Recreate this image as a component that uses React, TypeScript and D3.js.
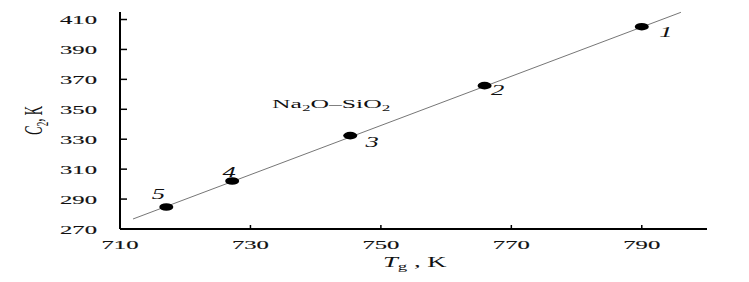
import React from 'react';
import * as d3 from 'd3';

// Tg (K) vs C2 (K) for Na2O-SiO2 glasses
const tg = [790, 765.9, 745.3, 727.2, 717.1];
const c2 = [405.2, 365.8, 332.4, 302.1, 284.7];
const pointLabels = ['1', '2', '3', '4', '5'];

// fitted line end points
const fitTg = [712, 796];
const fitC2 = [276.7, 414.8];

const xTicks = [710, 730, 750, 770, 790];
const yTicks = [270, 290, 310, 330, 350, 370, 390, 410];

// label offsets from each point, px
const labelOffset: [number, number][] = [
  [24, 10],
  [13, 9],
  [22, 11],
  [-3, -4],
  [-8, -8],
];

const W = 749;
const H = 282;
const SX = 1.9; // the source picture is stretched horizontally
const FONT = '"Liberation Serif", "Times New Roman", serif';
const INK = '#111';

export default function App() {
  const x = d3.scaleLinear().domain([710, 800]).range([120, 707]);
  const y = d3.scaleLinear().domain([270, 410]).range([229, 19.5]);

  const line = d3
    .line<number>()
    .x((d) => x(d))
    .y((_, i) => y(fitC2[i]));

  const stretched = (tx: number, ty: number) => `translate(${tx},${ty}) scale(${SX},1)`;

  return (
    <div style={{ position: 'fixed', left: 0, top: 0 }}>
      <svg width={W} height={H} style={{ display: 'block', background: '#fff' }} fontFamily={FONT}>
        {/* fit line */}
        <path d={line(fitTg) ?? ''} fill="none" stroke="#666" strokeWidth={0.9} />

        {/* axes */}
        <line x1={x(710)} y1={y(270)} x2={x(710)} y2={y(415)} stroke="#000" strokeWidth={2} />
        <line x1={x(710)} y1={y(270)} x2={x(800)} y2={y(270)} stroke="#000" strokeWidth={2} />

        {yTicks.map((t) => (
          <g key={'y' + t}>
            <line x1={x(710)} x2={x(710) + 7} y1={y(t)} y2={y(t)} stroke="#000" strokeWidth={1.5} />
            <text
              transform={stretched(97, y(t) + 4.5)}
              textAnchor="end"
              fontSize={13}
              fill={INK}
              stroke={INK}
              strokeWidth={0.15}
            >
              {t}
            </text>
          </g>
        ))}

        {xTicks.map((t) => (
          <g key={'x' + t}>
            {t !== 710 && (
              <line x1={x(t)} x2={x(t)} y1={y(270)} y2={y(270) - 4} stroke="#000" strokeWidth={1.5} />
            )}
            <text
              transform={stretched(x(t), 248.5)}
              textAnchor="middle"
              fontSize={13}
              fill={INK}
              stroke={INK}
              strokeWidth={0.15}
            >
              {t}
            </text>
          </g>
        ))}

        {/* axis titles */}
        <text transform={stretched(383, 267)} fontSize={14} fill={INK}>
          <tspan fontStyle="italic">T</tspan>
          <tspan fontSize={10} dy={3}>g</tspan>
          <tspan dy={-3}> , K</tspan>
        </text>
        <text transform={`translate(42,135) rotate(-90) scale(1,${SX})`} fontSize={13} fill={INK}>
          <tspan fontStyle="italic">C</tspan>
          <tspan fontSize={9} dy={3}>2</tspan>
          <tspan dy={-3}>, K</tspan>
        </text>

        {/* series caption */}
        <text transform={stretched(272, 108)} fontSize={13.5} fill={INK}>
          Na<tspan fontSize={9} dy={3}>2</tspan>
          <tspan dy={-3}>O–SiO</tspan>
          <tspan fontSize={9} dy={3}>2</tspan>
        </text>

        {/* points */}
        {tg.map((t, i) => (
          <g key={'p' + i}>
            <ellipse cx={x(t)} cy={y(c2[i])} rx={7} ry={3.8} fill="#000" />
            <text
              transform={stretched(x(t) + labelOffset[i][0], y(c2[i]) + labelOffset[i][1])}
              textAnchor="middle"
              fontSize={14}
              fontStyle="italic"
              fill={INK}
            >
              {pointLabels[i]}
            </text>
          </g>
        ))}
      </svg>
    </div>
  );
}
